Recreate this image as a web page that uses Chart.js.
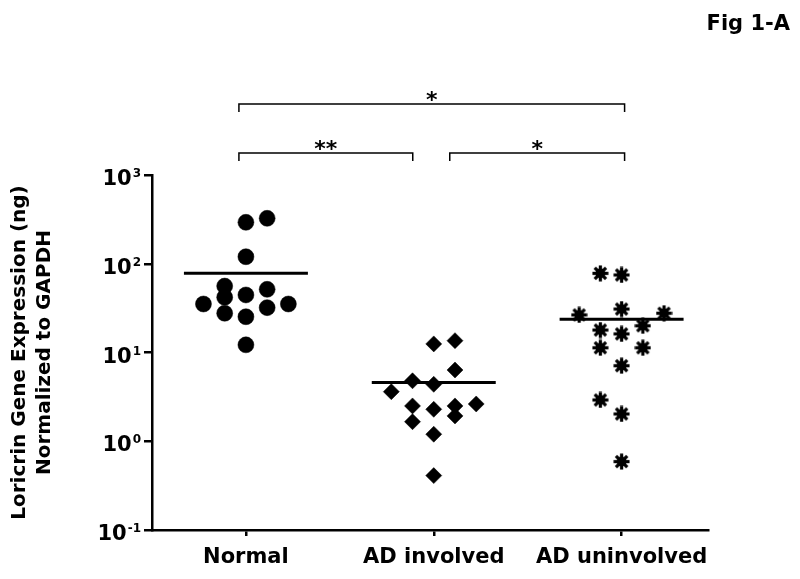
<!DOCTYPE html>
<html>
<head>
<meta charset="utf-8">
<script src="https://cdn.jsdelivr.net/npm/chart.js@4.4.1/dist/chart.umd.min.js"></script>
<style>body { margin: 0; background: #fff; }</style>
</head>
<body>
<canvas id="myChart" width="800" height="579"></canvas>
<script>
const categories = ["Normal", "AD involved", "AD uninvolved"];

// values, columns = horizontal slot of each dot inside its group
const normalValues = [325, 293, 120, 56, 51.5, 44.5, 41.9, 35.2, 35.2, 32, 27.7, 25.3, 12.2];
const normalColumns = [1, 0, 0, -1, 1, 0, -1, -2, 2, 1, -1, 0, 0];
const involvedValues = [13.6, 12.5, 6.35, 4.8, 4.38, 3.62, 2.63, 2.5, 2.5, 2.29, 1.93, 1.66, 1.2, 0.41];
const involvedColumns = [1, 0, 1, -1, 0, -2, 2, -1, 1, 0, 1, -1, 0, 0];
const uninvolvedValues = [78, 74.7, 30.9, 27.7, 26.5, 20, 17.9, 16.2, 11.3, 11.3, 7.1, 2.92, 2.03, 0.59];
const uninvolvedColumns = [-1, 0, 0, 2, -2, 1, -1, 0, -1, 1, 0, -1, 0, 0];
const means = [78, 4.6, 23.7];

const yTicks = [0.1, 1, 10, 100, 1000];
const comparisons = [
    { from: 0, to: 2, label: "*", level: 1 },
    { from: 0, to: 1, label: "**", level: 0 },
    { from: 1, to: 2, label: "*", level: 0 }
];

const colStep = 0.113;
const meanHalf = 0.33;
const FONT = '"DejaVu Sans", sans-serif';

function points(values, columns, group) {
    return values.map((v, i) => ({ x: group + columns[i] * colStep, y: v }));
}

function makeAsterisk() {
    const c = document.createElement('canvas');
    c.width = 17;
    c.height = 17;
    const g = c.getContext('2d');
    g.fillStyle = '#000';
    g.strokeStyle = '#000';
    g.beginPath();
    g.arc(8.5, 8.5, 5, 0, Math.PI * 2);
    g.fill();
    g.lineWidth = 3.2;
    for (let k = 0; k < 8; k++) {
        const a = k * Math.PI / 4;
        g.beginPath();
        g.moveTo(8.5, 8.5);
        g.lineTo(8.5 + 8 * Math.cos(a), 8.5 + 8 * Math.sin(a));
        g.stroke();
    }
    return c;
}

// y tick labels as 10^n, significance brackets, figure tag
const annotations = {
    id: 'annotations',
    afterDraw(chart) {
        const { ctx, chartArea, scales: { x, y } } = chart;
        ctx.save();
        ctx.fillStyle = '#000';
        ctx.strokeStyle = '#000';
        ctx.textBaseline = 'alphabetic';

        yTicks.forEach(v => {
            const py = y.getPixelForValue(v);
            const exp = String(Math.round(Math.log10(v)));
            const right = chartArea.left - 11;
            ctx.font = 'bold 12px ' + FONT;
            const ew = ctx.measureText(exp).width;
            ctx.textAlign = 'right';
            ctx.fillText(exp, right, py + 2);
            ctx.font = 'bold 21px ' + FONT;
            ctx.fillText('10', right - ew - 1, py + 10);
        });

        ctx.lineWidth = 1.5;
        comparisons.forEach(c => {
            const by = chartArea.top - (c.level ? 71 : 22);
            const x1 = x.getPixelForValue(c.from) + (c.from === 1 ? 16 : -7);
            const x2 = x.getPixelForValue(c.to) + (c.to === 1 ? -21 : 3);
            ctx.beginPath();
            ctx.moveTo(x1, by + 8);
            ctx.lineTo(x1, by);
            ctx.lineTo(x2, by);
            ctx.lineTo(x2, by + 8);
            ctx.stroke();
            ctx.font = 'bold 22px ' + FONT;
            ctx.textAlign = 'center';
            ctx.fillText(c.label, (x1 + x2) / 2, by + 3);
        });

        ctx.font = 'bold 21px ' + FONT;
        ctx.textAlign = 'right';
        ctx.fillText('Fig 1-A', 790, 30);
        ctx.restore();
    }
};

const datasets = [
    { data: points(normalValues, normalColumns, 0), pointStyle: 'circle', pointRadius: 8 },
    { data: points(involvedValues, involvedColumns, 1), pointStyle: 'rectRot', pointRadius: 8 },
    { data: points(uninvolvedValues, uninvolvedColumns, 2), pointStyle: makeAsterisk(), pointRadius: 8 }
].map(d => Object.assign(d, {
    backgroundColor: '#000',
    borderColor: '#000',
    borderWidth: 0.5,
    pointHoverRadius: d.pointRadius
}));

means.forEach((m, i) => {
    datasets.push({
        data: [{ x: i - meanHalf, y: m }, { x: i + meanHalf, y: m }],
        showLine: true,
        borderColor: '#000',
        borderWidth: 3,
        pointRadius: 0
    });
});

const ctx = document.getElementById('myChart');

new Chart(ctx, {
    type: 'scatter',
    data: { datasets: datasets },
    options: {
        responsive: false,
        devicePixelRatio: 1,
        animation: false,
        layout: { padding: { top: 175, right: 92, bottom: 0, left: 0 } },
        plugins: {
            legend: { display: false },
            tooltip: { enabled: false }
        },
        scales: {
            x: {
                type: 'linear',
                min: -0.5,
                max: 2.46,
                afterBuildTicks: s => { s.ticks = categories.map((c, i) => ({ value: i })); },
                afterFit: s => { s.height = 49; },
                ticks: {
                    callback: v => categories[v],
                    color: '#000',
                    font: { family: FONT, size: 21, weight: 'bold' },
                    padding: 9,
                    maxRotation: 0,
                    autoSkip: false
                },
                grid: { drawOnChartArea: false, drawTicks: true, tickLength: 6, color: '#000', lineWidth: 2.5 },
                border: { display: true, color: '#000', width: 2.5 }
            },
            y: {
                type: 'logarithmic',
                min: 0.1,
                max: 1000,
                afterBuildTicks: s => { s.ticks = yTicks.map(v => ({ value: v })); },
                afterFit: s => { s.width = 152; },
                ticks: { display: false },
                grid: { drawOnChartArea: false, drawTicks: true, tickLength: 8, color: '#000', lineWidth: 2.5 },
                border: { display: true, color: '#000', width: 2.5 },
                title: {
                    display: true,
                    text: ["Loricrin Gene Expression (ng)", "Normalized to GAPDH"],
                    color: '#000',
                    font: { family: FONT, size: 20, weight: 'bold', lineHeight: 1.25 },
                    padding: { top: 7.5, bottom: 0 }
                }
            }
        }
    },
    plugins: [annotations]
});
</script>
</body>
</html>
